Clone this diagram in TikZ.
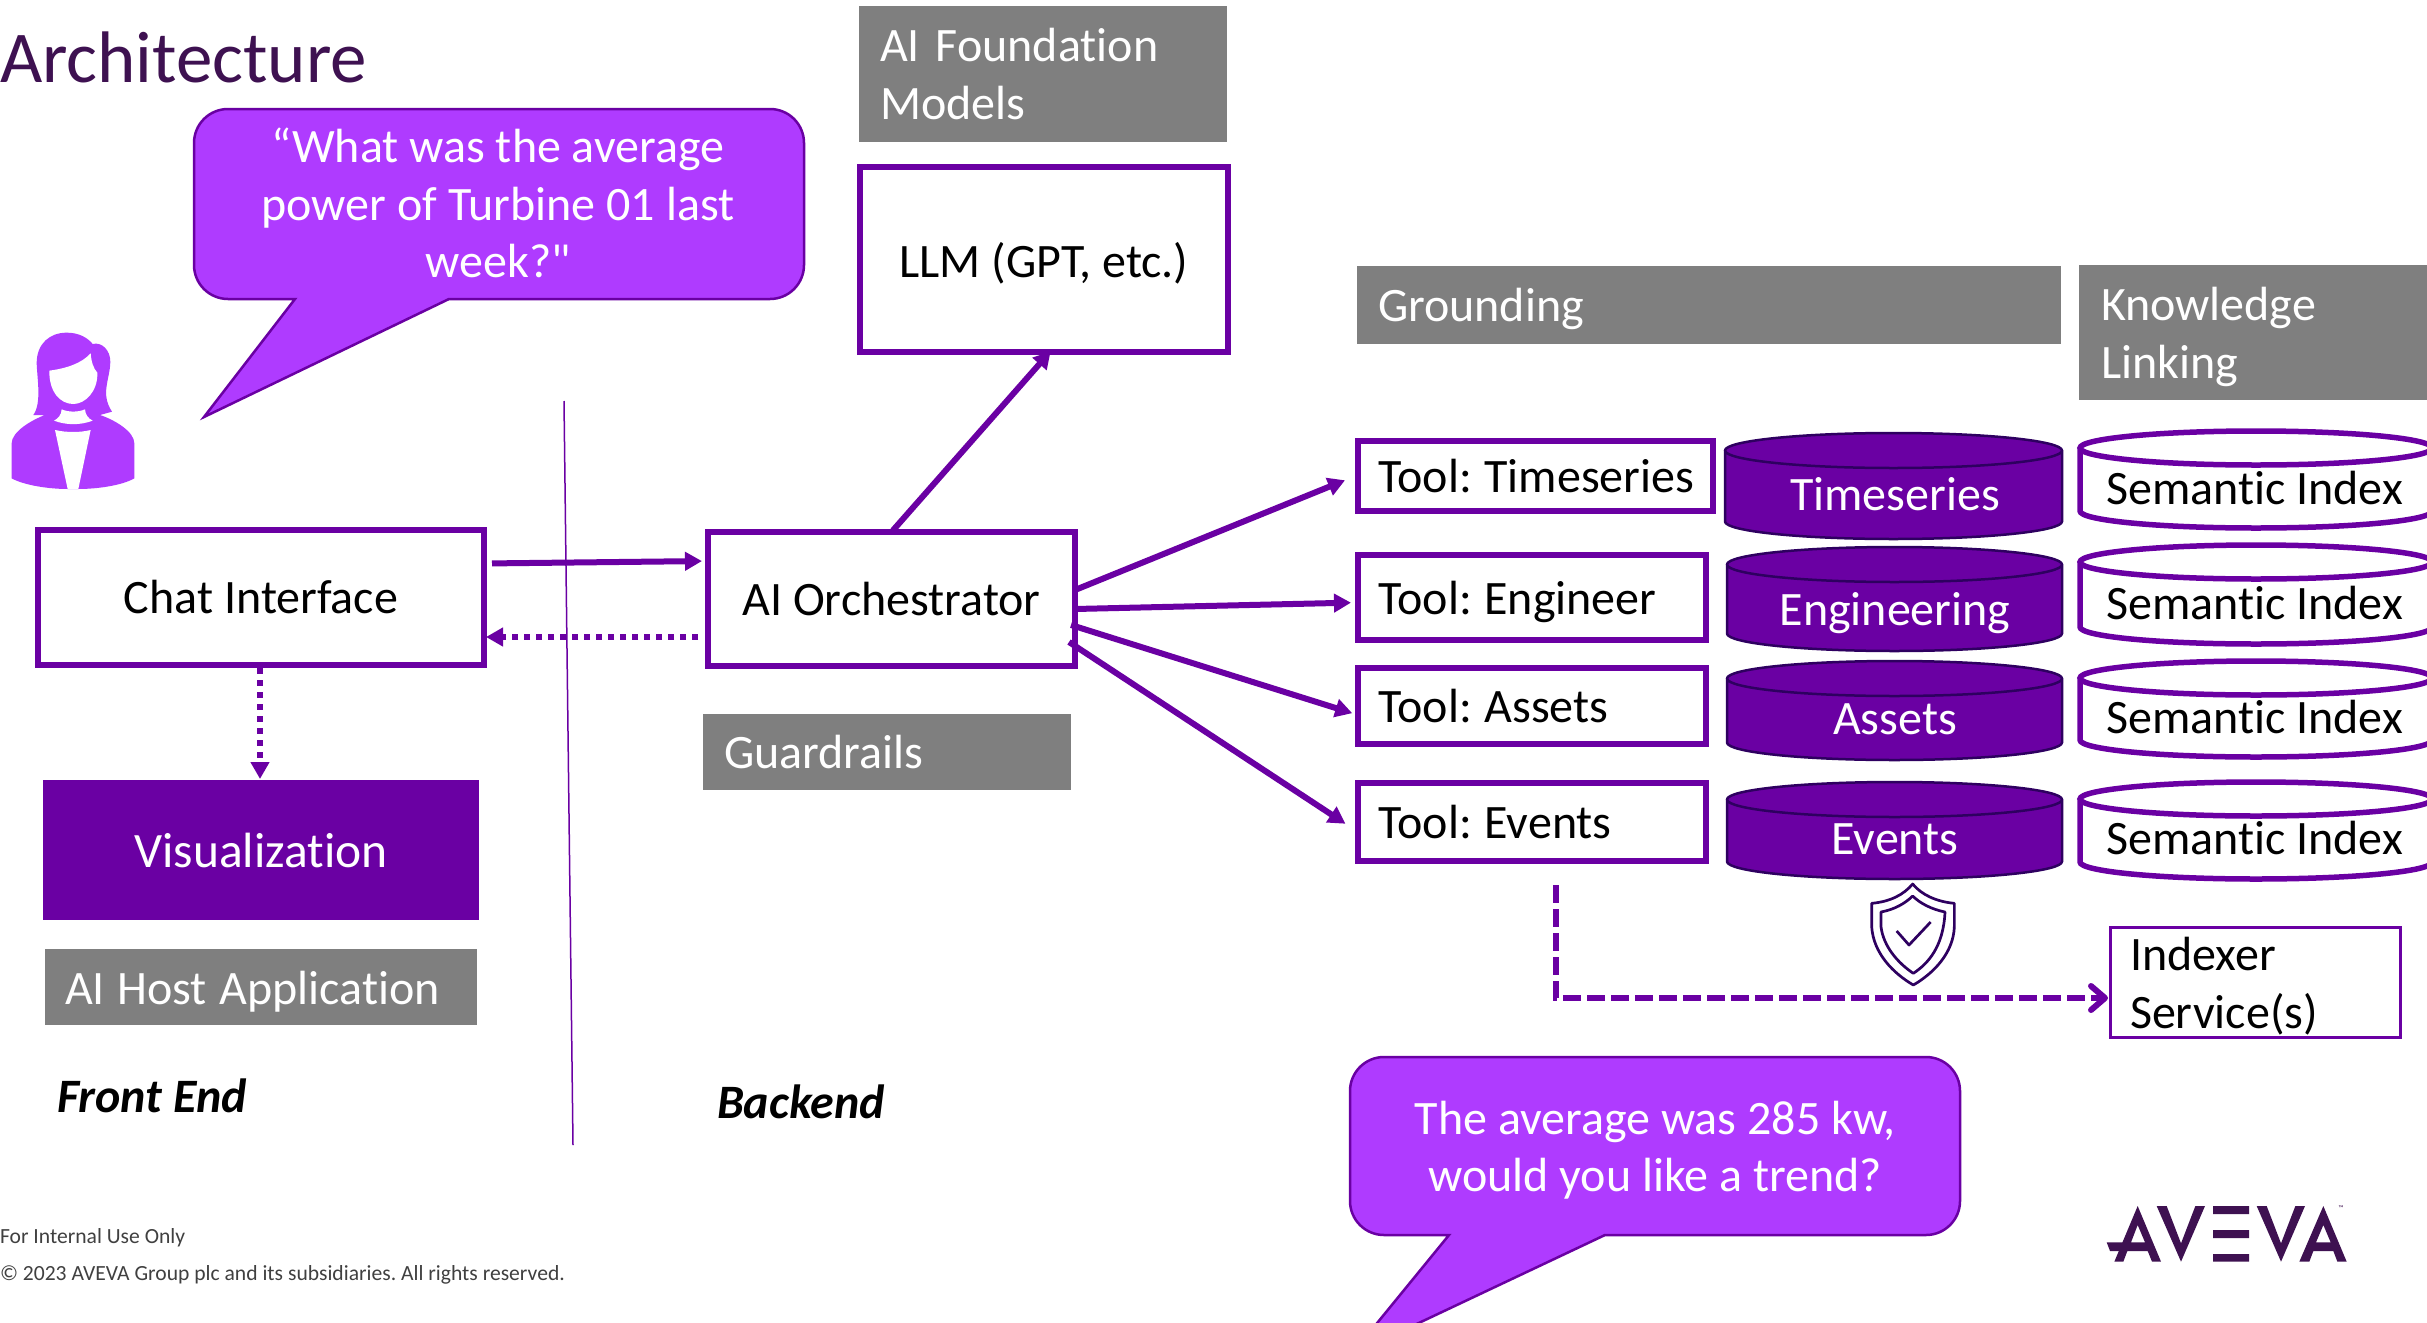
\documentclass[tikz,border=0pt]{standalone}
\usepackage{fontspec}
\setmainfont{Carlito}[Ligatures={TeXOff,NoCommon}]
\frenchspacing
\usetikzlibrary{arrows.meta}
\definecolor{pdark}{HTML}{6A00A3}
\definecolor{pbright}{HTML}{AF3BFF}
\definecolor{pink}{HTML}{3E1151}
\definecolor{gbox}{HTML}{7F7F7F}
\definecolor{pline}{HTML}{2E0060}
\newcommand{\fsz}{\fontsize{48}{57.5}\selectfont}
\newcommand{\dn}[1]{\rule{0pt}{#1pt}}
\newcommand{\ns}{\hspace{-3.5pt}}
% name, x1,y1,x2,y2, style, text
\newcommand{\bx}[7]{\node[#6,minimum width=#4pt-#2pt,minimum height=#5pt-#3pt,anchor=north west] (#1) at (#2,#3) {#7};}
% x1 y1 x2 y2 ry style
\newcommand{\cyl}[6]{%
 \pgfmathsetmacro{\rx}{(#3-#1)/2}%
 \draw[#6] (#1,#2+#5) -- (#1,#4-#5) arc[start angle=180,end angle=360,x radius=\rx pt,y radius=#5 pt] -- (#3,#2+#5)
   arc[start angle=0,end angle=360,x radius=\rx pt,y radius=#5 pt];}
\tikzset{
 x=1pt,y=-1pt,
 every node/.style={font=\fsz,inner sep=0pt,outer sep=0pt},
 wbox/.style={draw=pdark,line width=5.5pt,fill=white,text=black,align=center},
 wleft/.style={wbox,align=left,text width=#1,inner xsep=0pt},
 gray box/.style={fill=gbox,text=white,align=left,text width=#1},
 arr/.style={draw=pdark,line width=6pt,-{Triangle[length=17pt,width=18pt]}},
 dotarr/.style={arr,dash pattern=on 6pt off 6pt},
 dasharr/.style={draw=pdark,line width=6pt,dash pattern=on 18pt off 6pt,-{Straight Barb[length=14pt,width=24pt,line width=6pt,round]}},
 dbcyl/.style={draw=pline,line width=2.5pt,fill=pdark},
 idxcyl/.style={draw=pdark,line width=5.5pt,fill=white},
 callout/.style={draw=pdark,line width=2.5pt,fill=pbright},
 cotext/.style={text=white,align=center},
 bolabel/.style={font=\fontsize{48}{50}\selectfont\bfseries\itshape,text=black,anchor=west},
 foot/.style={anchor=west,text=black!75,font=\fontsize{21.6}{24}\selectfont},
 shieldline/.style={draw=pline,line width=2.7pt,line join=round},
}
\begin{document}
\begin{tikzpicture}
\useasboundingbox (0,0) rectangle (2427,1322);
\clip (0,0) rectangle (2427,1322);
\fill[white] (0,0) rectangle (2427,1322);

\node[anchor=west,text=pink,font=\fontsize{73}{80}\selectfont] (title) at (0,57) {Architecture};

% callout 1
\draw[callout] (295,299) [rounded corners=34pt] -- (194,299) -- (194,109) -- (804,109) -- (804,299) [sharp corners] -- (449,299) -- (204,417) -- cycle;
\node[cotext] (q) at (498,203) {“What was the average\\power of Turbine 01 last\\week?"};

% callout 2
\draw[callout] (1449,1235) [rounded corners=34pt] -- (1350,1235) -- (1350,1057) -- (1960,1057) -- (1960,1235) [sharp corners] -- (1605,1235) -- (1351,1355) -- cycle;
\node[cotext] (a) at (1655,1150) {The average was 285 kw,\\would you like a trend?};

% person
\begin{scope}[shift={(0,300)},x=1pt/3,y=-1pt/3]
\fill[pbright] (35,535) -- (35,430) .. controls (35,395) and (95,360) .. (135,345) -- (100,345) .. controls (125,310) and (112,240) .. (110,190) .. controls (110,130) and (150,98) .. (200,98) .. controls (235,98) and (262,112) .. (278,132) .. controls (305,125) and (331,150) .. (331,185) .. controls (330,240) and (300,280) .. (336,335) -- (300,345) .. controls (345,360) and (403,395) .. (403,430) -- (403,535) .. controls (365,557) and (290,567) .. (235,567) -- (203,567) .. controls (150,567) and (75,557) .. (35,535) -- cycle;
\fill[white] (148,212) .. controls (200,205) and (245,190) .. (272,160) .. controls (274,185) and (280,205) .. (292,218) .. controls (294,275) and (255,312) .. (220,312) .. controls (180,312) and (147,275) .. (148,212) -- cycle;
\fill[white] (185,328) .. controls (205,337) and (235,337) .. (255,328) .. controls (256,345) and (265,355) .. (278,362) .. controls (240,376) and (200,376) .. (162,362) .. controls (175,355) and (184,345) .. (185,328) -- cycle;
\fill[white] (165,390) .. controls (200,398) and (240,398) .. (272,390) -- (235,567) -- (203,567) -- cycle;
\end{scope}

% divider
\coordinate (d1) at (564,401);
\coordinate (d2) at (573,1145);
\draw[pdark,line width=1.5pt] (d1) -- (d2);

% boxes
\bx{chat}{38}{530}{484}{665}{wbox}{Chat Interface}
\bx{orch}{708}{532}{1075}{666}{wbox}{AI Orchestrator}
\bx{found}{859}{6}{1227}{142}{gray box=326pt,inner xsep=21pt}{AI Foundation\\Models}
\bx{llm}{860}{167}{1228}{352}{wbox}{\dn{42}LLM (GPT, etc.)}
\bx{ground}{1357}{266}{2061}{344}{gray box=662pt,inner xsep=21pt}{\dn{42}Grounding}
\bx{know}{2079}{265}{2427}{400}{gray box=306pt,inner xsep=22pt}{\dn{42}Knowledge\\Linking}
\bx{guard}{703}{714}{1071}{790}{gray box=326pt,inner xsep=21pt}{Guardrails}
\bx{vis}{43}{780}{479}{920}{fill=pdark,text=white}{\fontsize{49.5}{57.5}\selectfont Visualization}
\bx{host}{45}{949}{477}{1025}{gray box=392pt,inner xsep=20pt}{\dn{43}AI\ns{} Host\ns{} Application}
\bx{t1}{1358}{441}{1713}{511}{wleft=314pt,inner xsep=20.5pt}{\mbox{Tool:\ns{} Timeseries}}
\bx{t2}{1358}{555}{1706}{640}{wleft=307pt,inner xsep=20.5pt}{\dn{42}Tool:\ns{} Engineer}
\bx{t3}{1358}{668}{1706}{744}{wleft=307pt,inner xsep=20.5pt}{Tool:\ns{} Assets}
\bx{t4}{1358}{783}{1706}{861}{wleft=307pt,inner xsep=20.5pt}{Tool:\ns{} Events}
\node[draw=pdark,line width=3pt,fill=white,text=black,align=left,text width=250pt,inner xsep=20pt,minimum height=110pt,anchor=north west] (idx) at (2110,927) {\dn{42}Indexer\\Service(s)};

% data cylinders
\cyl{1725}{433}{2062}{539}{17.5}{dbcyl}
\node[text=white] (c1) at (1895,494) {Timeseries};
\cyl{1727}{547}{2062}{651}{17.5}{dbcyl}
\node[text=white] (c2) at (1895,613) {Engineering};
\cyl{1727}{661}{2062}{760}{17.5}{dbcyl}
\node[text=white] (c3) at (1895,719) {Assets};
\cyl{1727}{782}{2062}{879}{17.5}{dbcyl}
\node[text=white] (c4) at (1895,839) {Events};
% semantic cylinders
\cyl{2080}{431}{2432}{528}{17}{idxcyl}
\node[text=black] (s1) at (2254.5,488) {Semantic Index};
\cyl{2080}{545}{2432}{644}{17}{idxcyl}
\node[text=black] (s2) at (2254.5,603) {Semantic Index};
\cyl{2080}{661}{2432}{757}{17}{idxcyl}
\node[text=black] (s3) at (2254.5,717) {Semantic Index};
\cyl{2080}{782}{2432}{879}{17}{idxcyl}
\node[text=black] (s4) at (2254.5,838) {Semantic Index};

% arrows
\draw[arr,shorten <=8pt,shorten >=6pt] ([yshift=34pt]chat.east) -- ([yshift=38pt]orch.west);
\draw[dotarr,shorten <=10pt,shorten >=2pt] ([yshift=-38pt]orch.west) -- ([yshift=-39.5pt]chat.east);
\draw[dotarr,shorten <=3pt,shorten >=1pt] ([xshift=-1pt]chat.south) -- ([xshift=-1pt]vis.north);
\draw[arr,shorten <=2pt,shorten >=-1pt] (orch.north) -- ([xshift=6pt]llm.south);
\draw[arr,shorten >=14pt] ([yshift=9pt]orch.east) -- ([yshift=1pt]t1.west);
\draw[arr,shorten >=7pt] ([yshift=-10pt]orch.east) -- ([yshift=-5pt]t2.west);
\draw[arr,shorten >=6pt] ([xshift=-4pt,yshift=-26pt]orch.east) -- ([yshift=-9pt]t3.west);
\draw[arr,shorten >=15pt] ([xshift=-6pt,yshift=-43pt]orch.east) -- ([yshift=-10pt]t4.west);
\coordinate (dstart) at (1556,885);
\draw[dasharr,shorten >=2pt] (dstart) |- ([yshift=-16pt]idx.west);

% shield
\begin{scope}[shift={(1820,860)},x=1pt/3,y=-1pt/3]
\draw[shieldline,fill=white] (278,72) .. controls (250,105) and (210,125) .. (155,130) -- (155,200) .. controls (160,280) and (220,340) .. (280,375) .. controls (340,340) and (400,280) .. (403,200) -- (403,130) .. controls (350,125) and (305,105) .. (278,72) -- cycle;
\draw[shieldline] (278,108) .. controls (255,130) and (225,148) .. (183,156) -- (183,200) .. controls (190,260) and (235,310) .. (280,340) .. controls (325,310) and (370,260) .. (375,156) .. controls (335,148) and (300,130) .. (278,108) -- cycle;
\draw[shieldline] (230,213) -- (267,255) -- (332,186);
\end{scope}

% labels
\node[bolabel] (fe) at (57,1096) {Front End};
\node[bolabel] (be) at (717,1102) {Backend};
\node[foot] (f1) at (0,1237.5) {For Internal Use Only};
\node[foot] (f2) at (0,1274.5) {© 2023 AVEVA Group plc and its subsidiaries. All rights reserved.};

% logo
\begin{scope}[shift={(2050,1180)},x=1pt/3,y=-1pt/3]
\fill[pink,even odd rule] (263,78) -- (333,245) -- (306,245) -- (293,213) -- (232,213) -- (220,245) -- (193,245) -- cycle (263,135) -- (285,187) -- (243,187) -- cycle;
\fill[pink] (170,187) -- (243,187) -- (232,213) -- (180,213) -- cycle;
\fill[pink] (320,78) -- (350,78) -- (393,190) -- (436,78) -- (465,78) -- (393,245) -- cycle;
\fill[pink] (489,78) rectangle (597,102) (489,150) rectangle (597,174) (489,222) rectangle (597,245);
\fill[pink] (620,78) -- (650,78) -- (693,190) -- (736,78) -- (765,78) -- (693,245) -- cycle;
\fill[pink,even odd rule] (820,78) -- (890,245) -- (862,245) -- (850,213) -- (790,213) -- (778,245) -- (748,245) -- cycle (820,135) -- (842,187) -- (798,187) -- cycle;
\node[text=pink,font=\fontsize{7}{8}\selectfont] (tm) at (873,85) {™};
\end{scope}
\end{tikzpicture}
\end{document}
